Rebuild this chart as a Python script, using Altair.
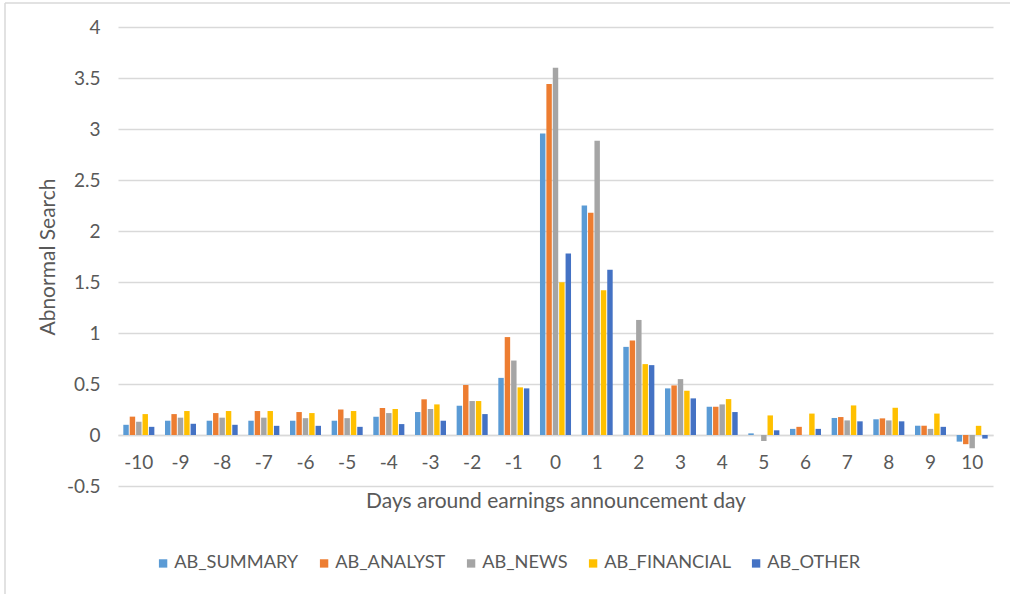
import altair as alt
import pandas as pd

days = ["-10", "-9", "-8", "-7", "-6", "-5", "-4", "-3", "-2", "-1", "0",
        "1", "2", "3", "4", "5", "6", "7", "8", "9", "10"]
series_names = ["AB_SUMMARY", "AB_ANALYST", "AB_NEWS", "AB_FINANCIAL", "AB_OTHER"]
series_colors = ["#5B9BD5", "#ED7D31", "#A5A5A5", "#FFC000", "#4472C4"]

ab_summary = [0.10, 0.14, 0.14, 0.14, 0.14, 0.14, 0.18, 0.225, 0.287, 0.56, 2.955,
              2.25, 0.864, 0.457, 0.277, 0.016, 0.06, 0.167, 0.154, 0.091, -0.065]
ab_analyst = [0.18, 0.205, 0.215, 0.235, 0.225, 0.25, 0.265, 0.35, 0.49, 0.96, 3.44,
              2.18, 0.927, 0.486, 0.277, 0.0, 0.08, 0.176, 0.163, 0.091, -0.09]
ab_news = [0.13, 0.17, 0.17, 0.17, 0.165, 0.165, 0.215, 0.255, 0.333, 0.73, 3.60,
           2.886, 1.128, 0.548, 0.30, -0.059, 0.0, 0.143, 0.143, 0.06, -0.13]
ab_financial = [0.205, 0.235, 0.235, 0.235, 0.215, 0.235, 0.255, 0.30, 0.333, 0.467, 1.497,
                1.42, 0.695, 0.434, 0.352, 0.192, 0.21, 0.29, 0.267, 0.21, 0.09]
ab_other = [0.08, 0.11, 0.10, 0.09, 0.09, 0.08, 0.107, 0.14, 0.205, 0.457, 1.78,
            1.62, 0.685, 0.359, 0.225, 0.046, 0.06, 0.134, 0.134, 0.08, -0.035]

all_series = [ab_summary, ab_analyst, ab_news, ab_financial, ab_other]
rows = []
for name, vals in zip(series_names, all_series):
    for d, v in zip(days, vals):
        rows.append({"day": d, "series": name, "value": v})
df = pd.DataFrame(rows)

FONT = "Lato"
TXT = "#595959"
GRID = "#D9D9D9"
W, H = 875, 459

bars = alt.Chart(df).mark_bar().encode(
    x=alt.X("day:N", sort=days,
            scale=alt.Scale(paddingInner=0.255, paddingOuter=0.1275),
            axis=alt.Axis(title="Days around earnings announcement day",
                          offset=-51, ticks=False, domainColor=GRID, domainWidth=1.3,
                          labelAngle=0, labelBaseline="alphabetic", labelPadding=33,
                          labelFont=FONT, labelFontSize=19, labelColor=TXT,
                          titleFont=FONT, titleFontSize=21, titleFontWeight="normal",
                          titleColor=TXT, titleX=W / 2, titleY=72,
                          titleBaseline="alphabetic", titleAlign="center")),
    xOffset=alt.XOffset("series:N", sort=series_names,
                        scale=alt.Scale(paddingInner=0.15)),
    y=alt.Y("value:Q", scale=alt.Scale(domain=[-0.5, 4], nice=False),
            axis=alt.Axis(title="Abnormal Search", values=[-0.5, 0, 0.5, 1, 1.5, 2, 2.5, 3, 3.5, 4],
                          labelExpr="toString(datum.value)",
                          domain=False, ticks=False, grid=True, gridColor=GRID, gridWidth=1.3,
                          labelPadding=18, labelFont=FONT, labelFontSize=19, labelColor=TXT,
                          titleFont=FONT, titleFontSize=21, titleFontWeight="normal",
                          titleColor=TXT, titleX=-70, titleY=H / 2, titleAngle=270,
                          titleAlign="center", titleBaseline="middle")),
    color=alt.Color("series:N", sort=series_names,
                    scale=alt.Scale(domain=series_names, range=series_colors),
                    legend=alt.Legend(title=None, orient="none", direction="horizontal",
                                      legendX=36, legendY=527, symbolType="square",
                                      symbolSize=70, symbolStrokeWidth=0,
                                      labelFont=FONT, labelFontSize=18.2, labelColor=TXT,
                                      columnPadding=16, labelOffset=2)),
)

frame_df = pd.DataFrame({"k": [0]})
left_border = alt.Chart(frame_df).mark_rule(color=GRID, strokeWidth=1.5).encode(
    x=alt.value(-113), y=alt.value(-24), y2=alt.value(600))
top_border = alt.Chart(frame_df).mark_rule(color=GRID, strokeWidth=1.5).encode(
    x=alt.value(-113), x2=alt.value(900), y=alt.value(-24))

chart = alt.layer(bars, left_border, top_border).properties(
    width=W, height=H,
    autosize=alt.AutoSizeParams(type="none"),
    padding={"left": 118, "top": 27, "right": 17, "bottom": 108},
    background="white",
).configure_view(stroke=None)

chart.save("out.html", embed_options={"renderer": "svg", "actions": False})
